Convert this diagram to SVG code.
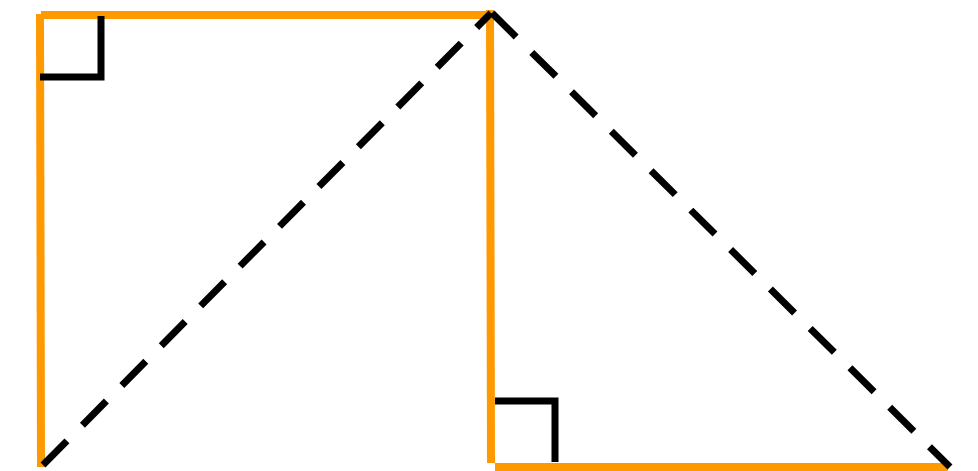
<svg xmlns="http://www.w3.org/2000/svg" width="978" height="471" viewBox="0 0 978 471">
<style>
.o{stroke:#FF9900;stroke-width:8;fill:none}
.k{stroke:#000;stroke-width:7;fill:none}
.d{stroke:#000;stroke-width:7;fill:none;stroke-dasharray:34 22}
</style>
<rect width="978" height="471" fill="#fff"/>
<g id="shapes">
<line class="o" x1="40" y1="14" x2="41" y2="467"/>
<line class="o" x1="41" y1="15" x2="494" y2="15"/>
<line class="o" x1="490" y1="10" x2="491" y2="463"/>
<line class="o" x1="495" y1="467" x2="948" y2="467"/>
<polyline class="k" points="40,77 101,77 101,16"/>
<polyline class="k" points="495,401 555,401 555,462"/>
</g>
<g id="connectors">
<line class="d" x1="43" y1="465" x2="491" y2="13"/>
<line class="d" x1="492" y1="13" x2="950" y2="467"/>
</g>
</svg>
